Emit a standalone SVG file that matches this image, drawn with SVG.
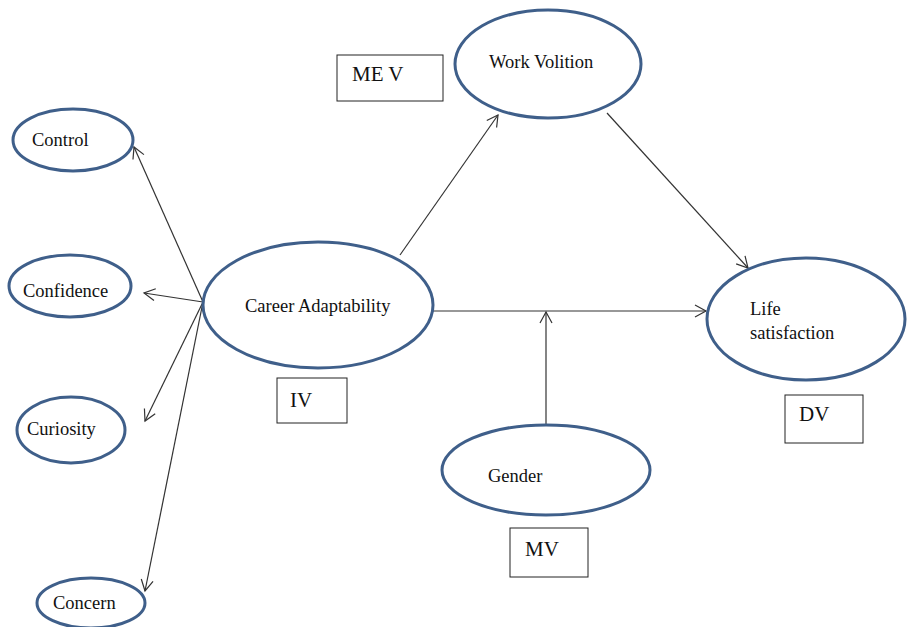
<svg xmlns="http://www.w3.org/2000/svg" width="907" height="627" viewBox="0 0 907 627">
<style>
.n{fill:#fff;stroke:#3f5f8a;stroke-width:3}
.b{fill:#fff;stroke:#222;stroke-width:1}
.c{stroke:#333;stroke-width:1.2;fill:none;marker-end:url(#a)}
.l{font-size:18.5px}
.m{font-size:21px}
</style>
<defs>
<marker id="a" markerUnits="userSpaceOnUse" markerWidth="14" markerHeight="14" refX="12" refY="7" orient="auto">
<path d="M1,1 L12,7 L1,13" fill="none" stroke="#333" stroke-width="1.2"/>
</marker>
</defs>
<rect width="907" height="627" fill="#fff"/>
<g id="connectors">
<line class="c" x1="203" y1="302" x2="134" y2="147"/>
<line class="c" x1="203" y1="302" x2="144" y2="293"/>
<line class="c" x1="203" y1="302" x2="145" y2="421"/>
<line class="c" x1="203" y1="302" x2="145" y2="591"/>
<line class="c" x1="400" y1="255" x2="498" y2="115"/>
<line class="c" x1="607" y1="113" x2="748" y2="268"/>
<line class="c" x1="433" y1="311" x2="706" y2="311"/>
<line class="c" x1="546" y1="425" x2="546" y2="312"/>
</g>
<g font-family="'Liberation Serif', 'DejaVu Serif', serif" fill="#111">
<g id="control"><ellipse class="n" cx="73" cy="140" rx="60" ry="31"/><text class="l" x="32" y="146">Control</text></g>
<g id="confidence"><ellipse class="n" cx="70" cy="286" rx="61" ry="31"/><text class="l" x="23" y="297">Confidence</text></g>
<g id="curiosity"><ellipse class="n" cx="71" cy="430" rx="54" ry="33"/><text class="l" x="27" y="435">Curiosity</text></g>
<g id="concern"><ellipse class="n" cx="91" cy="603" rx="54" ry="25"/><text class="l" x="53" y="609">Concern</text></g>
<g id="career"><ellipse class="n" cx="318" cy="305" rx="115" ry="63"/><text class="l" x="245" y="312">Career Adaptability</text></g>
<g id="iv"><rect class="b" x="277" y="378" width="70" height="45"/><text class="m" x="290" y="407">IV</text></g>
<g id="mev"><rect class="b" x="337" y="55" width="106" height="46"/><text class="m" x="352" y="81">ME V</text></g>
<g id="workvolition"><ellipse class="n" cx="548" cy="64" rx="93" ry="54"/><text class="l" x="489" y="68">Work Volition</text></g>
<g id="life"><ellipse class="n" cx="806" cy="319" rx="99" ry="61"/><text class="l" x="750" y="315">Life</text><text class="l" x="750" y="339">satisfaction</text></g>
<g id="dv"><rect class="b" x="785" y="395" width="78" height="48"/><text class="m" x="799" y="421">DV</text></g>
<g id="gender"><ellipse class="n" cx="546" cy="470" rx="104" ry="45"/><text class="l" x="488" y="482">Gender</text></g>
<g id="mv"><rect class="b" x="510" y="528" width="78" height="49"/><text class="m" x="525" y="556">MV</text></g>
</g>
</svg>
